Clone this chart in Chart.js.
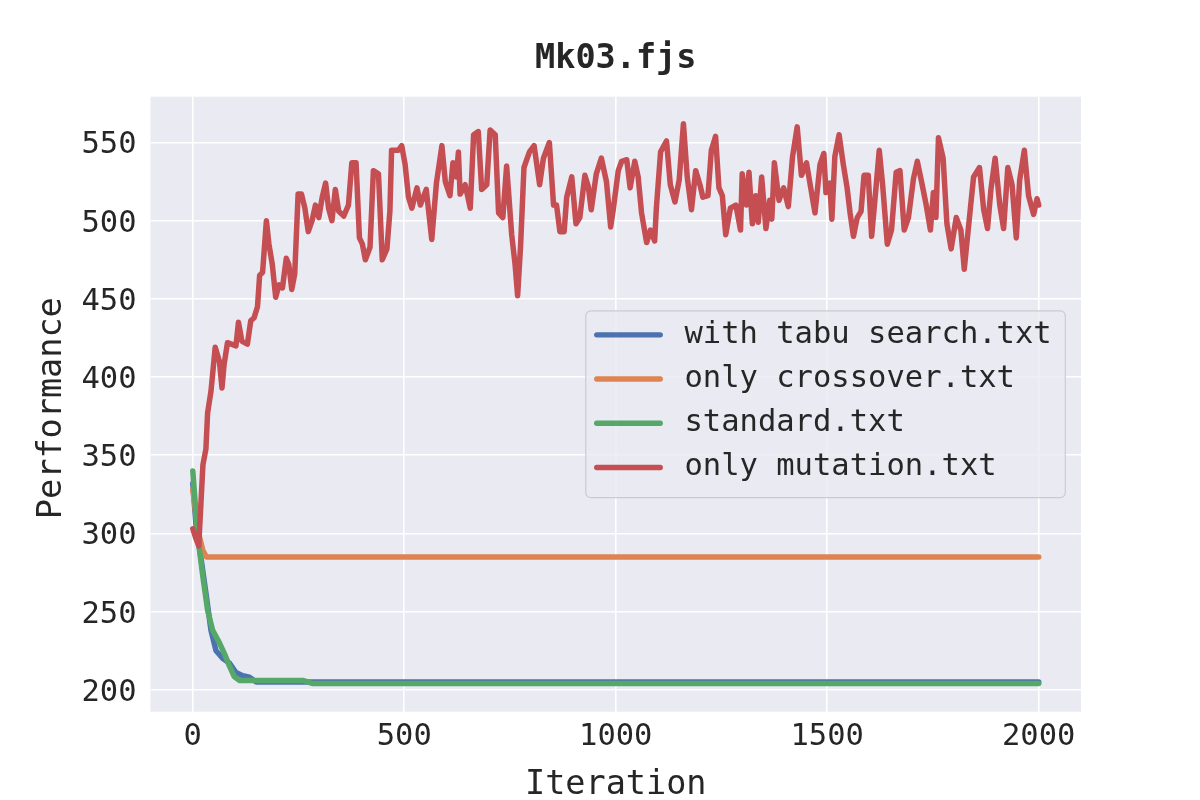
<!DOCTYPE html>
<html>
<head>
<meta charset="utf-8">
<title>Mk03.fjs</title>
<script src="https://cdn.jsdelivr.net/npm/chart.js@4.4.1/dist/chart.umd.min.js"></script>
<style>
  html, body { margin: 0; padding: 0; background: #fff; }
  #wrap { width: 1200px; height: 800px; }
</style>
</head>
<body>
<div id="wrap"><canvas id="chart" width="1200" height="800"></canvas></div>
<script>
// --- data ---
const chartTitle = 'Mk03.fjs';
const yTitle = 'Performance';
const seriesLabels = ['with tabu search.txt', 'only crossover.txt', 'standard.txt', 'only mutation.txt'];
const seriesColors = ['#4C72B0', '#DD8452', '#55A868', '#C44E52'];
const xTicks = [0, 500, 1000, 1500, 2000];
const yTicks = [200, 250, 300, 350, 400, 450, 500, 550];

const tabuIter = [0, 8, 20, 32, 43, 55, 71, 87, 102, 118, 134, 150, 2000];
const tabuPerf = [332, 304, 283, 260, 238, 225, 220, 217, 211, 209, 208, 205, 205];

const crossIter = [0, 12, 24, 32, 2000];
const crossPerf = [328, 302, 289, 285, 285];

const stdIter = [0, 8, 16, 24, 35, 47, 63, 75, 87, 98, 110, 260, 284, 2000];
const stdPerf = [340, 311, 289, 272, 251, 238, 230, 223, 215, 208.5, 206, 206, 204, 204];

const mutIter = [
  0, 7, 14, 24, 31, 35, 43, 53, 63, 69, 74, 82, 102, 108, 116, 129, 137, 145, 153, 158,
  165, 174, 180, 188, 196, 204, 212, 221, 227, 234, 241, 249, 257, 265, 273, 282, 290, 298, 306, 314,
  321, 329, 337, 345, 357, 368, 376, 386, 394, 401, 408, 419, 427, 439, 448, 459, 466, 470, 486, 494,
  502, 510, 518, 530, 538, 552, 565, 576, 589, 597, 608, 615, 623, 628, 632, 644, 656, 664, 675, 683,
  695, 703, 715, 723, 733, 742, 754, 762, 768, 775, 783, 796, 807, 820, 829, 843, 853, 860, 868, 878,
  884, 896, 906, 915, 927, 935, 942, 954, 966, 978, 988, 994, 1006, 1014, 1026, 1034, 1045, 1053, 1061, 1073,
  1082, 1092, 1096, 1106, 1120, 1129, 1140, 1150, 1160, 1169, 1179, 1189, 1199, 1206, 1218, 1226, 1236, 1244, 1252, 1260,
  1271, 1284, 1295, 1299, 1309, 1315, 1323, 1331, 1337, 1345, 1355, 1364, 1369, 1375, 1386, 1397, 1408, 1418, 1429, 1439,
  1451, 1461, 1471, 1483, 1492, 1497, 1506, 1511, 1518, 1528, 1538, 1547, 1554, 1562, 1571, 1580, 1587, 1597, 1605, 1613,
  1623, 1631, 1642, 1652, 1663, 1672, 1682, 1692, 1704, 1713, 1723, 1734, 1744, 1751, 1757, 1763, 1774, 1783, 1793, 1805,
  1816, 1824, 1834, 1846, 1860, 1870, 1879, 1887, 1897, 1908, 1917, 1927, 1937, 1947, 1955, 1966, 1976, 1988, 1996, 2000
];
const mutPerf = [
  303, 297, 292, 344, 354, 377, 391, 419, 410, 393, 408, 422, 420, 435, 423, 421, 436, 438, 445, 465,
  467, 500, 485, 472, 451, 459, 457, 476, 472, 456, 466, 517, 517, 508, 493, 500, 510, 502, 515, 524,
  508, 500, 520, 506, 503, 510, 537, 537, 489, 485, 475, 483, 532, 530, 475, 482, 506, 545, 545, 548,
  536, 515, 508, 521, 510, 520, 488, 524, 548, 525, 516, 537, 528, 544, 517, 523, 508, 555, 557, 520,
  523, 558, 555, 505, 502, 535, 491, 472, 452, 484, 534, 544, 548, 523, 540, 550, 510, 510, 493, 493,
  515, 528, 498, 502, 529, 522, 507, 530, 540, 525, 496, 507, 532, 538, 539, 521, 538, 528, 505, 486,
  494, 487, 508, 544, 551, 523, 512, 526, 562, 528, 507, 532, 523, 515, 516, 545, 554, 521, 516, 491,
  508, 510, 494, 530, 510, 531, 498, 516, 499, 528, 495, 513, 501, 537, 513, 521, 509, 541, 560, 529,
  537, 521, 505, 536, 543, 518, 524, 501, 541, 555, 536, 521, 505, 490, 502, 506, 529, 529, 490, 514,
  545, 523, 485, 494, 531, 532, 494, 502, 527, 538, 525, 510, 494, 518, 502, 553, 540, 498, 482, 502,
  494, 469, 496, 528, 534, 507, 495, 520, 540, 510, 495, 534, 523, 489, 526, 545, 516, 504, 514, 510
];

const toPoints = (xs, ys) => xs.map((x, i) => ({ x: x, y: ys[i] }));
const allIters = [tabuIter, crossIter, stdIter, mutIter];
const allPerfs = [tabuPerf, crossPerf, stdPerf, mutPerf];

const FONT = "'DejaVu Sans Mono', monospace";
const TEXT = '#262626';
const PLOT_BG = '#EAEAF2';

// grey plot face like seaborn darkgrid
const plotFace = {
    id: 'plotFace',
    beforeDraw: (chart) => {
        const { ctx, chartArea: a } = chart;
        ctx.save();
        ctx.fillStyle = PLOT_BG;
        ctx.fillRect(a.left, a.top, a.right - a.left, a.bottom - a.top);
        ctx.restore();
    }
};

// title centred over the axes (not the whole canvas), plus the y label
const axesTitles = {
    id: 'axesTitles',
    afterDraw: (chart) => {
        const { ctx, chartArea: a } = chart;
        ctx.save();
        ctx.font = 'bold 33.5px ' + FONT;
        ctx.fillStyle = TEXT;
        ctx.textAlign = 'center';
        ctx.textBaseline = 'alphabetic';
        ctx.fillText(chartTitle, (a.left + a.right) / 2, a.top - 29);

        ctx.font = '33.5px ' + FONT;
        ctx.textBaseline = 'middle';
        ctx.translate(52, (a.top + a.bottom) / 2 + 4);
        ctx.rotate(-Math.PI / 2);
        ctx.fillText(yTitle, 0, 0);
        ctx.restore();
    }
};

// matplotlib-like legend, 'center right' inside the axes
const insideLegend = {
    id: 'insideLegend',
    afterDatasetsDraw: (chart) => {
        const { ctx, chartArea: a } = chart;
        const sets = chart.data.datasets;
        ctx.save();
        ctx.font = '30.5px ' + FONT;
        const textW = Math.max(...sets.map(d => ctx.measureText(d.label).width));
        const boxW = 98.7 + textW + 13.6;
        const boxH = 186.7;
        const right = a.right - 15.7;
        const left = right - boxW;
        const top = (a.top + a.bottom) / 2 - boxH / 2;

        ctx.beginPath();
        ctx.roundRect(left, top, boxW, boxH, 5);
        ctx.fillStyle = 'rgba(234,234,242,0.8)';
        ctx.fill();
        ctx.lineWidth = 1.2;
        ctx.strokeStyle = '#CCCCCC';
        ctx.stroke();

        sets.forEach((d, i) => {
            const y = top + 24 + i * 44.2;
            ctx.beginPath();
            ctx.moveTo(left + 11, y);
            ctx.lineTo(left + 74.5, y);
            ctx.lineWidth = 5.4;
            ctx.lineCap = 'round';
            ctx.strokeStyle = d.borderColor;
            ctx.stroke();
            ctx.fillStyle = TEXT;
            ctx.textBaseline = 'middle';
            ctx.textAlign = 'left';
            ctx.fillText(d.label, left + 98.7, y);
        });
        ctx.restore();
    }
};

const chart = new Chart(document.getElementById('chart'), {
    type: 'line',
    data: {
        datasets: seriesLabels.map((label, i) => ({
            label: label,
            data: toPoints(allIters[i], allPerfs[i]),
            borderColor: seriesColors[i],
            backgroundColor: seriesColors[i],
            borderWidth: 5.5,
            pointRadius: 0,
            tension: 0,
            fill: false,
            borderCapStyle: 'round',
            borderJoinStyle: 'round',
            order: seriesLabels.length - i
        }))
    },
    options: {
        responsive: false,
        animation: false,
        devicePixelRatio: 1,
        layout: { padding: { left: 0, right: 119, top: 96.7, bottom: 0 } },
        plugins: {
            legend: { display: false },
            tooltip: { enabled: false },
            title: { display: false }
        },
        scales: {
            x: {
                type: 'linear',
                min: -100,
                max: 2100,
                afterBuildTicks: (s) => { s.ticks = xTicks.map(v => ({ value: v })); },
                afterFit: (s) => { s.height = 88.3; },
                border: { display: false },
                grid: { color: '#FFFFFF', lineWidth: 1.6, drawTicks: false },
                ticks: {
                    color: TEXT,
                    padding: 7,
                    font: { family: FONT, size: 30.5 },
                    callback: (v) => String(v)
                },
                title: {
                    display: true,
                    text: 'Iteration',
                    color: TEXT,
                    font: { family: FONT, size: 33.5, lineHeight: 1 },
                    padding: { top: 0, bottom: -2 }
                }
            },
            y: {
                type: 'linear',
                min: 186,
                max: 579.3,
                afterBuildTicks: (s) => { s.ticks = yTicks.map(v => ({ value: v })); },
                afterFit: (s) => { s.width = 150.5; },
                border: { display: false },
                grid: { color: '#FFFFFF', lineWidth: 1.6, drawTicks: false },
                ticks: {
                    color: TEXT,
                    padding: 14,
                    labelOffset: 3,
                    font: { family: FONT, size: 30.5 },
                    callback: (v) => String(v)
                }
            }
        }
    },
    plugins: [plotFace, axesTitles, insideLegend]
});
</script>
</body>
</html>
